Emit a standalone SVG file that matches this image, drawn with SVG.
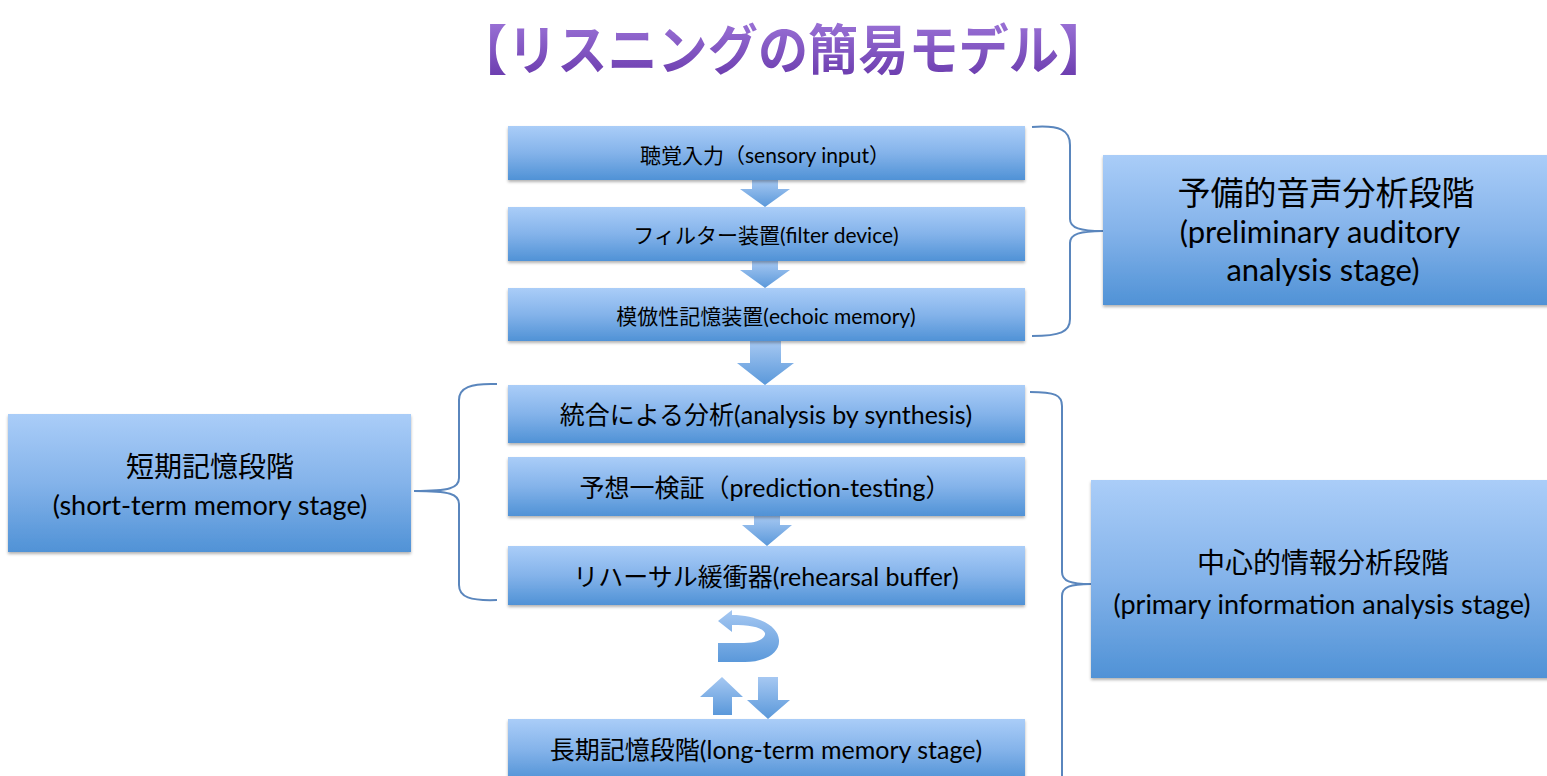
<svg xmlns="http://www.w3.org/2000/svg" width="1547" height="776" viewBox="0 0 1547 776">
  <defs>
    <linearGradient id="boxGrad" x1="0" y1="0" x2="0" y2="1">
      <stop offset="0" stop-color="#aacdf8"/>
      <stop offset="0.5" stop-color="#84b3ea"/>
      <stop offset="1" stop-color="#5092d6"/>
    </linearGradient>
    <linearGradient id="arrowGrad" x1="0" y1="0" x2="0" y2="1">
      <stop offset="0" stop-color="#a6c8f2"/>
      <stop offset="1" stop-color="#5a98da"/>
    </linearGradient>
    <linearGradient id="titleGrad" x1="0" y1="0" x2="0" y2="1">
      <stop offset="0" stop-color="#a67fe0"/>
      <stop offset="1" stop-color="#6434a8"/>
    </linearGradient>
    <filter id="shadow" x="-5%" y="-10%" width="110%" height="130%">
      <feDropShadow dx="0" dy="2" stdDeviation="1.5" flood-color="#000" flood-opacity="0.3"/>
    </filter>
  </defs>
  <style>
    .box { fill: url(#boxGrad); filter: url(#shadow); }
    .arr { fill: url(#arrowGrad); }
    .brace { fill: none; stroke: #5a86bd; stroke-width: 2; }
    .t { font-family: Lato, "Noto Sans CJK JP", sans-serif; fill: #000; text-anchor: middle; }
    .s { font-size: 21px; }
    .m { font-size: 25px; }
    .k { font-size: 28px; }
    .j { font-size: 27px; }
    .l { font-size: 31px; }
    .h { font-size: 33px; }
  </style>
  <rect width="1547" height="776" fill="#fff"/>

  <g id="title">
    <text x="783" y="70" font-family="'Noto Sans CJK JP', sans-serif" font-size="54" font-weight="bold" fill="url(#titleGrad)" text-anchor="middle" textLength="652" lengthAdjust="spacingAndGlyphs">【リスニングの簡易モデル】</text>
  </g>

  <g id="connectors">
    <path class="arr" d="M752,180 H778 V189 H790 L765,207 L740,189 H752 Z"/>
    <path class="arr" d="M752,261 H778 V270 H790 L765,288 L740,270 H752 Z"/>
    <path class="arr" d="M750,341 H781 V363 H794 L765,385 L737,363 H750 Z"/>
    <path class="arr" d="M754,516 H780 V525 H792 L767,546 L742,525 H754 Z"/>
    <path class="arr" d="M718,621 L732,610 L732,615 C756,615 778,625 779,640 C780,653 765,662 745,662 L718,662 L718,643 L744,643 C758,643 766,638 765,633 C762,627 750,625 732,625 L732,632 Z"/>
    <path class="arr" d="M722,677 L743,697 H732 V715 H713 V697 H700 Z"/>
    <path class="arr" d="M758,677 H778 V700 H790 L768,719 L747,700 H758 Z"/>
    <path class="brace" d="M1032,127 C1060,125 1070,130 1070,145 L1070,219 C1070,228 1080,231 1103,231 C1080,231 1070,234 1070,243 L1070,319 C1070,332 1060,336 1032,336"/>
    <path class="brace" d="M497,384 C470,383 459,388 459,400 L459,478 C459,488 450,491 414,491 C450,491 459,494 459,504 L459,585 C459,597 470,601 497,600"/>
    <path class="brace" d="M1030,392 C1055,392 1062,395 1062,406 L1062,572 C1062,581 1070,584 1091,584 C1070,584 1062,587 1062,596 L1062,776"/>
  </g>

  <g id="n-sensory">
    <rect class="box" x="508" y="126" width="517" height="54"/>
    <text class="t s" x="765" y="163">聴覚入力（sensory input）</text>
  </g>
  <g id="n-filter">
    <rect class="box" x="508" y="207" width="517" height="54"/>
    <text class="t s" x="766" y="243">フィルター装置(filter device)</text>
  </g>
  <g id="n-echoic">
    <rect class="box" x="508" y="288" width="517" height="53"/>
    <text class="t s" x="766" y="324">模倣性記憶装置(echoic memory)</text>
  </g>
  <g id="n-analysis">
    <rect class="box" x="508" y="385" width="517" height="58"/>
    <text class="t m" x="766" y="424">統合による分析(analysis by synthesis)</text>
  </g>
  <g id="n-prediction">
    <rect class="box" x="508" y="457" width="517" height="59"/>
    <text class="t m" x="765" y="497">予想一検証（prediction-testing）</text>
  </g>
  <g id="n-rehearsal">
    <rect class="box" x="508" y="546" width="517" height="59"/>
    <text class="t m" x="766" y="586">リハーサル緩衝器(rehearsal buffer)</text>
  </g>
  <g id="n-longterm">
    <rect class="box" x="508" y="719" width="517" height="62"/>
    <text class="t m" x="766" y="759">長期記憶段階(long-term memory stage)</text>
  </g>

  <g id="n-preliminary">
    <rect class="box" x="1103" y="155" width="450" height="150"/>
    <text class="t h" x="1326" y="205">予備的音声分析段階</text>
    <text class="t l" x="1320" y="243">(preliminary auditory</text>
    <text class="t l" x="1323" y="281">analysis stage)</text>
  </g>
  <g id="n-shortterm">
    <rect class="box" x="8" y="414" width="403" height="138"/>
    <text class="t k" x="210" y="477">短期記憶段階</text>
    <text class="t j" x="210" y="515">(short-term memory stage)</text>
  </g>
  <g id="n-primary">
    <rect class="box" x="1091" y="480" width="462" height="198"/>
    <text class="t k" x="1323" y="573">中心的情報分析段階</text>
    <text class="t j" x="1322" y="614">(primary information analysis stage)</text>
  </g>
</svg>
